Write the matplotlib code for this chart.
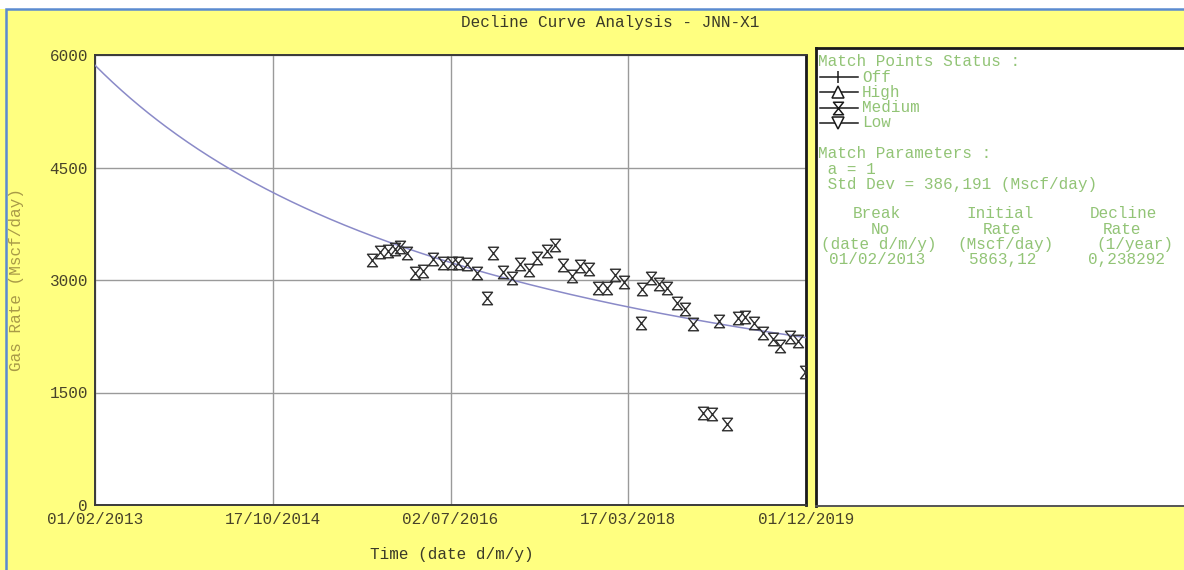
import matplotlib
matplotlib.use("Agg")
import matplotlib.pyplot as plt
import matplotlib.dates as mdates
from matplotlib.path import Path
from matplotlib.patches import Rectangle
import numpy as np

# monthly gas rate match points (Mscf/day)
rate_dates = [
    "2015-09-29", "2015-10-28", "2015-11-26", "2015-12-20", "2016-01-06", "2016-01-31",
    "2016-02-28", "2016-03-27", "2016-05-01", "2016-06-05", "2016-07-06", "2016-07-28",
    "2016-08-28", "2016-10-02", "2016-11-06", "2016-11-28", "2017-01-02", "2017-02-01",
    "2017-03-03", "2017-04-03", "2017-05-01", "2017-06-04", "2017-07-03", "2017-07-31",
    "2017-08-31", "2017-09-29", "2017-10-31", "2017-12-01", "2018-01-01", "2018-01-30",
    "2018-03-02", "2018-05-03", "2018-04-30", "2018-06-04", "2018-07-03", "2018-07-31",
    "2018-09-03", "2018-10-02", "2018-10-31", "2018-12-04", "2019-01-04", "2019-01-30",
    "2019-02-27", "2019-04-06", "2019-05-01", "2019-06-01", "2019-07-03", "2019-08-06",
    "2019-09-01", "2019-10-05", "2019-11-02", "2019-11-27",
]
gas_rate = [
    3267, 3377, 3391, 3413, 3444, 3364,
    3093, 3124, 3280, 3231, 3231, 3227,
    3213, 3097, 2760, 3360, 3107, 3027,
    3213, 3133, 3297, 3391, 3467, 3200,
    3053, 3187, 3147, 2893, 2893, 3067,
    2977, 2880, 2427, 3027, 2947, 2893,
    2697, 2613, 2413, 1231, 1213, 2457,
    1080, 2493, 2511, 2427, 2297, 2213,
    2120, 2244, 2191, 1777,
]

# harmonic decline match (a = 1)
break_date = "2013-02-01"
end_date = "2019-12-01"
qi = 5863.12        # Mscf/day
di = 0.238292       # 1/year

tick_dates = ["2013-02-01", "2014-10-17", "2016-07-02", "2018-03-17", "2019-12-01"]
tick_labels = ["01/02/2013", "17/10/2014", "02/07/2016", "17/03/2018", "01/12/2019"]
y_ticks = [0, 1500, 3000, 4500, 6000]

W, H = 1184, 570
YELLOW = "#ffff80"
DARK = "#48432a"
GREEN = "#92c476"
MONO = "Liberation Mono"
FS = 11.5

fig = plt.figure(figsize=(W / 100, H / 100), dpi=100)
fig.patch.set_facecolor(YELLOW)

# white strip and blue frame around the window
fig.add_artist(Rectangle((0, 1 - 9 / H), 1, 9 / H, transform=fig.transFigure,
                         facecolor="white", edgecolor="none", zorder=0))
fig.add_artist(Rectangle((6 / W, -0.01), 1.01, 1 - 9 / H + 0.01, transform=fig.transFigure,
                         facecolor="none", edgecolor="#5b8bd0", lw=1.8, zorder=5))


def fpos(x0, y0, x1, y1):
    return [x0 / W, 1 - y1 / H, (x1 - x0) / W, (y1 - y0) / H]


ax = fig.add_axes(fpos(95, 55, 806, 505))
ax.set_facecolor("white")

x0 = mdates.datestr2num(break_date)
x1 = mdates.datestr2num(end_date)
tt = np.linspace(x0, x1, 400)
q_fit = qi / (1 + di * (tt - x0) / 365.25)
ax.plot(tt, q_fit, color="#8a8ac8", lw=1.1, zorder=3)

hourglass = Path([(-0.8, 1), (0.8, 1), (-0.8, -1), (0.8, -1), (-0.8, 1)],
                 [Path.MOVETO, Path.LINETO, Path.LINETO, Path.LINETO, Path.CLOSEPOLY])
xd = mdates.datestr2num(rate_dates)
ax.plot(xd, gas_rate, ls="none", marker=hourglass, ms=9, mfc="none",
        mec="#2e2e2e", mew=1.0, zorder=4)

ax.set_xlim(x0, x1)
ax.set_ylim(0, 6000)
ax.set_xticks(mdates.datestr2num(tick_dates))
ax.set_xticklabels(tick_labels)
ax.set_yticks(y_ticks)
ax.set_yticklabels([str(v) for v in y_ticks])
ax.tick_params(length=0, colors=DARK, labelsize=FS, pad=5)
for lab in ax.get_xticklabels() + ax.get_yticklabels():
    lab.set_fontfamily(MONO)
ax.grid(True, color="#9a9a9a", lw=1)
for s in ax.spines.values():
    s.set_color("#3a3a3a")
    s.set_linewidth(1.4)
ax.spines["right"].set_linewidth(2.0)
ax.spines["right"].set_color("#1a1a1a")

fig.text(610 / W, 1 - 22 / H, "Decline Curve Analysis - JNN-X1", ha="center", va="center",
         family=MONO, fontsize=FS, color="#3a3a28")
fig.text(452 / W, 1 - 554 / H, "Time (date d/m/y)", ha="center", va="center",
         family=MONO, fontsize=FS, color="#3a3a28")
fig.text(17 / W, 1 - 280 / H, "Gas Rate (Mscf/day)", ha="center", va="center",
         rotation=90, family=MONO, fontsize=FS, color="#a89a48")

# right-hand information panel, laid out in pixel units
px0, py0 = 816, 48
pan = fig.add_axes(fpos(px0, py0, W + 2, 506))
pan.set_facecolor("white")
pan.set_xlim(0, W + 2 - px0)
pan.set_ylim(506 - py0, 0)
pan.set_xticks([])
pan.set_yticks([])
for s in pan.spines.values():
    s.set_color("#1a1a1a")
    s.set_linewidth(2.0)
pan.spines["bottom"].set_color("#555555")
pan.spines["bottom"].set_linewidth(1.4)


def ptext(x, y, s, **kw):
    pan.text(x - px0, y - py0, s, family=MONO, fontsize=FS, color=GREEN, va="center", **kw)


ptext(818, 62, "Match Points Status :")
status_names = ["Off", "High", "Medium", "Low"]
status_markers = ["|", "^", hourglass, "v"]
for i, (name, mk) in enumerate(zip(status_names, status_markers)):
    y = 77 + i * 15.3
    pan.plot([820 - px0, 858 - px0], [y - py0, y - py0], color="#1a1a1a", lw=1.1)
    pan.plot([838 - px0], [y - py0], marker=mk, ms=9 if mk is hourglass else 8,
             mfc="white", mec="#1a1a1a", mew=1.1, color="#1a1a1a")
    ptext(862, y, name)

ptext(818, 154, "Match Parameters :")
ptext(818, 169, " a = 1")
ptext(818, 184, " Std Dev = 386,191 (Mscf/day)")

# break table: each cell placed at its own left edge
table_rows = [
    [("Break", 853), ("Initial", 966), ("Decline", 1090)],
    [("No", 871), ("Rate", 983), ("Rate", 1103)],
    [("(date d/m/y)", 821), ("(Mscf/day)", 957), ("(1/year)", 1096)],
    [("01/02/2013", 829), ("5863,12", 969), ("0,238292", 1088)],
]
for r, row in enumerate(table_rows):
    for cell, cx in row:
        ptext(cx, 214 + r * 15.3, cell, ha="left")

fig.savefig("out.png", dpi=100, facecolor=fig.get_facecolor())
